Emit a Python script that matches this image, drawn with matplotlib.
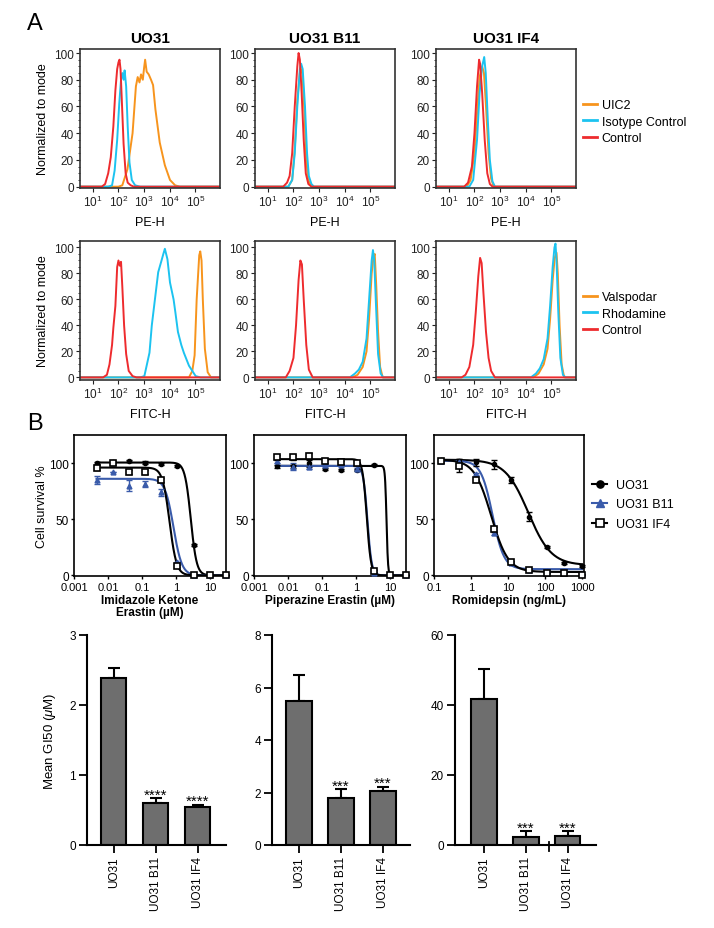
import numpy as np
import matplotlib
matplotlib.use('Agg')
import matplotlib.pyplot as plt
from matplotlib.lines import Line2D
from matplotlib.ticker import AutoMinorLocator, LogLocator, NullLocator, NullFormatter

plt.rcParams['font.family'] = ['Liberation Sans', 'DejaVu Sans']
plt.rcParams['mathtext.fontset'] = 'custom'
plt.rcParams['mathtext.rm'] = 'Liberation Sans'
plt.rcParams['mathtext.it'] = 'Liberation Sans:italic'
plt.rcParams['mathtext.bf'] = 'Liberation Sans:bold'

ORANGE = '#F7941D'
CYAN = '#1CC3F0'
RED = '#EE2B2E'
BLUE = '#3A5BAA'

# ---------------- A: flow histograms (log10 intensity, % of mode) ----------------
# PE-H (UIC2 staining)
pe_uo31_uic2_x = [2.0, 2.15, 2.35, 2.55, 2.68, 2.75, 2.82, 2.88, 2.95, 3.0, 3.04, 3.1, 3.18, 3.27, 3.35, 3.44, 3.61, 3.81, 4.01, 4.21, 4.4]
pe_uo31_uic2_y = [0, 1, 13, 40, 75, 82, 78, 84, 80, 89, 95, 86, 84, 80, 76, 58, 33, 16, 5, 1, 0]
pe_uo31_iso_x = [1.6, 1.75, 1.85, 1.95, 2.03, 2.1, 2.15, 2.2, 2.24, 2.3, 2.36, 2.43, 2.52, 2.65, 2.85]
pe_uo31_iso_y = [0, 1, 12, 35, 62, 80, 85, 80, 87, 75, 45, 18, 5, 1, 0]
pe_uo31_ctrl_x = [1.35, 1.48, 1.6, 1.7, 1.8, 1.88, 1.95, 2.0, 2.04, 2.08, 2.13, 2.2, 2.28, 2.36, 2.48, 2.6]
pe_uo31_ctrl_y = [0, 2, 10, 22, 45, 72, 88, 93, 95, 88, 65, 32, 10, 3, 1, 0]

pe_b11_uic2_x = [1.8, 1.95, 2.05, 2.15, 2.25, 2.3, 2.35, 2.43, 2.5, 2.58, 2.7]
pe_b11_uic2_y = [0, 5, 28, 65, 85, 88, 84, 55, 20, 5, 0]
pe_b11_iso_x = [1.8, 1.95, 2.05, 2.15, 2.25, 2.3, 2.36, 2.45, 2.53, 2.6, 2.7, 2.8]
pe_b11_iso_y = [0, 5, 25, 60, 88, 92, 88, 60, 25, 8, 2, 0]
pe_b11_ctrl_x = [1.6, 1.75, 1.85, 1.95, 2.05, 2.15, 2.2, 2.25, 2.32, 2.4, 2.48, 2.58, 2.7]
pe_b11_ctrl_y = [0, 3, 8, 25, 60, 90, 100, 95, 70, 35, 10, 2, 0]

pe_if4_uic2_x = [1.7, 1.85, 2.0, 2.1, 2.2, 2.3, 2.37, 2.45, 2.55, 2.65, 2.75]
pe_if4_uic2_y = [0, 5, 25, 55, 82, 90, 85, 60, 25, 6, 0]
pe_if4_iso_x = [1.8, 1.95, 2.1, 2.2, 2.3, 2.38, 2.44, 2.52, 2.6, 2.7, 2.8]
pe_if4_iso_y = [0, 5, 35, 70, 90, 97, 85, 50, 20, 4, 0]
pe_if4_ctrl_x = [1.6, 1.75, 1.9, 2.0, 2.1, 2.18, 2.22, 2.3, 2.4, 2.5, 2.6, 2.7]
pe_if4_ctrl_y = [0, 3, 15, 40, 75, 95, 92, 70, 35, 10, 2, 0]

# FITC-H (rhodamine efflux)
fitc_uo31_vals_x = [4.75, 4.88, 4.97, 5.05, 5.15, 5.19, 5.24, 5.29, 5.37, 5.48, 5.61]
fitc_uo31_vals_y = [0, 5, 17, 60, 94, 97, 90, 60, 22, 4, 0]
fitc_uo31_rho_x = [2.85, 3.01, 3.21, 3.3, 3.44, 3.55, 3.68, 3.75, 3.81, 3.91, 4.01, 4.15, 4.22, 4.32, 4.45, 4.55, 4.75, 5.01, 5.2]
fitc_uo31_rho_y = [0, 1, 19, 40, 63, 81, 90, 95, 99, 91, 73, 60, 50, 35, 25, 19, 9, 1, 0]
fitc_uo31_ctrl_x = [1.4, 1.55, 1.65, 1.75, 1.8, 1.88, 1.95, 2.0, 2.05, 2.1, 2.15, 2.22, 2.3, 2.4, 2.55, 2.7]
fitc_uo31_ctrl_y = [0, 2, 10, 25, 38, 55, 85, 90, 86, 89, 70, 40, 18, 5, 1, 0]

fitc_b11_vals_x = [4.3, 4.5, 4.7, 4.85, 4.95, 5.05, 5.12, 5.17, 5.23, 5.3, 5.38, 5.48]
fitc_b11_vals_y = [0, 2, 8, 20, 45, 80, 93, 95, 70, 35, 8, 0]
fitc_b11_rho_x = [4.2, 4.4, 4.55, 4.7, 4.85, 4.95, 5.05, 5.1, 5.15, 5.22, 5.3, 5.4, 5.5]
fitc_b11_rho_y = [0, 3, 6, 12, 30, 60, 90, 98, 90, 55, 18, 3, 0]
fitc_b11_ctrl_x = [1.7, 1.85, 2.0, 2.1, 2.2, 2.27, 2.33, 2.4, 2.5, 2.6, 2.75]
fitc_b11_ctrl_y = [0, 5, 15, 40, 75, 90, 87, 60, 25, 6, 0]

fitc_if4_vals_x = [4.3, 4.5, 4.7, 4.85, 4.95, 5.05, 5.13, 5.2, 5.25, 5.32, 5.4, 5.5]
fitc_if4_vals_y = [0, 3, 10, 22, 45, 75, 92, 96, 80, 40, 10, 0]
fitc_if4_rho_x = [4.2, 4.4, 4.55, 4.7, 4.85, 4.95, 5.05, 5.12, 5.16, 5.2, 5.27, 5.35, 5.45, 5.55]
fitc_if4_rho_y = [0, 3, 7, 14, 30, 55, 85, 100, 103, 90, 50, 15, 2, 0]
fitc_if4_ctrl_x = [1.5, 1.65, 1.8, 1.95, 2.05, 2.15, 2.22, 2.28, 2.35, 2.45, 2.55, 2.65, 2.8]
fitc_if4_ctrl_y = [0, 2, 8, 25, 50, 78, 92, 88, 65, 35, 15, 5, 0]

cell_lines = ['UO31', 'UO31 B11', 'UO31 IF4']
pe_legend = ['UIC2', 'Isotype Control', 'Control']
fitc_legend = ['Valspodar', 'Rhodamine', 'Control']

# ---------------- B: dose response ----------------
conc_erastin = [0.0046, 0.0137, 0.041, 0.123, 0.37, 1.11, 3.33, 10, 30]
conc_romi = [0.15, 0.46, 1.37, 4.1, 12.3, 37, 111, 333, 1000]

ike_uo31 = [100, 101, 102, 100.5, 99, 97.5, 27, 0, 0]
ike_uo31_err = [1, 1, 1, 1, 1, 1, 1, 0, 0]
ike_b11 = [85, 92, 80, 81.5, 74, 12, 0.5, 0, 0]
ike_b11_err = [3.5, 0, 5, 2.5, 3, 0, 0, 0, 0]
ike_if4 = [96, 100, 92, 92, 85, 8, 0, 0, 0]
ike_if4_err = [2, 2, 2, 2, 2, 1, 0, 0, 0]

pe_uo31 = [97, 97, 99.7, 94.6, 93.8, 94, 98, 0, 0]
pe_uo31_err = [1, 1, 3, 1, 1, 1, 1, 0, 0]
pe_b11 = [102, 96.7, 96.7, 98.5, 98.5, 95, 2, 0, 0]
pe_b11_err = [2, 3, 2, 1, 1, 1, 0, 0, 0]
pe_if4 = [105, 105, 106.5, 101.5, 100.6, 99.7, 4, 0, 0]
pe_if4_err = [2, 2.5, 2.5, 1, 1, 1.5, 1, 0, 0]

romi_uo31 = [103, 101.5, 100.6, 99, 84.8, 52, 25, 11.3, 8.3]
romi_uo31_err = [1, 2, 3, 4, 3, 4, 1, 1, 1]
romi_b11 = [102, 101, 90, 38, 11, 5, 4, 4, 1]
romi_b11_err = [1, 2, 1, 2, 1, 0.5, 0.5, 0.5, 0.5]
romi_if4 = [101.5, 97.6, 84.8, 41, 12, 4.5, 2.4, 2.4, 0.6]
romi_if4_err = [1, 6, 1, 2, 1, 0.5, 0.5, 0.5, 0.5]

# fitted 4PL parameters: top, bottom, IC50, hill
ike_fits = [[100.5, 0, 2.75, 5], [86, 0, 0.85, 3.5], [96, 0, 0.65, 4.2]]
pe_fits = [[97.5, 0, 8.0, 20], [97.5, 0, 2.2, 7], [103.5, 0, 2.1, 7]]
romi_fits = [[103, 9, 35, 1.4], [102, 5.5, 3.8, 2.8], [103, 3, 3.5, 1.9]]

# ---------------- B: GI50 bars ----------------
gi50_ike = [2.38, 0.60, 0.55]
gi50_ike_err = [0.15, 0.07, 0.025]
gi50_pe = [5.5, 1.78, 2.04]
gi50_pe_err = [0.98, 0.35, 0.18]
gi50_romi = [41.8, 2.4, 2.5]
gi50_romi_err = [8.6, 1.6, 1.4]
stars_ike = ['', '****', '****']
stars_pe = ['', '***', '***']
stars_romi = ['', '***', '***']

W, H = 714, 929
fig = plt.figure(figsize=(W / 100, H / 100), dpi=100)


def box(l, t, r, b):
    return fig.add_axes([l / W, 1 - b / H, (r - l) / W, (b - t) / H])


# ---------- histograms ----------
XLO, XHI = 0.5, 5.96
hist_cols = [(80, 220), (255, 395), (436, 576)]
hist_rows = [(50, 189, (-1, 103)), (242, 381, (-2, 105))]
hist_data = [
    [[(pe_uo31_uic2_x, pe_uo31_uic2_y, ORANGE), (pe_uo31_iso_x, pe_uo31_iso_y, CYAN), (pe_uo31_ctrl_x, pe_uo31_ctrl_y, RED)],
     [(pe_b11_uic2_x, pe_b11_uic2_y, ORANGE), (pe_b11_iso_x, pe_b11_iso_y, CYAN), (pe_b11_ctrl_x, pe_b11_ctrl_y, RED)],
     [(pe_if4_uic2_x, pe_if4_uic2_y, ORANGE), (pe_if4_iso_x, pe_if4_iso_y, CYAN), (pe_if4_ctrl_x, pe_if4_ctrl_y, RED)]],
    [[(fitc_uo31_vals_x, fitc_uo31_vals_y, ORANGE), (fitc_uo31_rho_x, fitc_uo31_rho_y, CYAN), (fitc_uo31_ctrl_x, fitc_uo31_ctrl_y, RED)],
     [(fitc_b11_vals_x, fitc_b11_vals_y, ORANGE), (fitc_b11_rho_x, fitc_b11_rho_y, CYAN), (fitc_b11_ctrl_x, fitc_b11_ctrl_y, RED)],
     [(fitc_if4_vals_x, fitc_if4_vals_y, ORANGE), (fitc_if4_rho_x, fitc_if4_rho_y, CYAN), (fitc_if4_ctrl_x, fitc_if4_ctrl_y, RED)]],
]
hist_xlabels = ['PE-H', 'FITC-H']
hist_legends = [pe_legend, fitc_legend]
legend_tops = [100, 292]

for r, (top, bot, ylim) in enumerate(hist_rows):
    for c, (l, rr) in enumerate(hist_cols):
        ax = box(l, top, rr, bot)
        for lx, ly, col in hist_data[r][c]:
            xs = np.concatenate([[XLO], lx, [XHI]])
            ys = np.concatenate([[0], ly, [0]])
            ax.plot(10 ** xs, ys, color=col, lw=1.4)
        ax.set_xscale('log')
        ax.set_xlim(10 ** XLO, 10 ** XHI)
        ax.set_ylim(*ylim)
        ax.set_xticks([10 ** k for k in range(1, 6)])
        ax.set_xticklabels([r'$10^{%d}$' % k for k in range(1, 6)])
        ax.xaxis.set_minor_locator(LogLocator(base=10, subs=np.arange(2, 10)))
        ax.xaxis.set_minor_formatter(NullFormatter())
        ax.set_yticks([0, 20, 40, 60, 80, 100])
        ax.yaxis.set_minor_locator(AutoMinorLocator(4))
        ax.tick_params(which='major', direction='out', length=3, width=0.8, pad=1.5, labelsize=8.5, colors='#222222')
        ax.tick_params(which='minor', direction='out', length=1.5, width=0.6, colors='#222222')
        for s in ax.spines.values():
            s.set_linewidth(1.2)
            s.set_color('#333333')
        ax.set_xlabel(hist_xlabels[r], fontsize=9)
        ax.xaxis.set_label_coords(0.5, -0.2)
        if c == 0:
            ax.set_ylabel('Normalized to mode', fontsize=9)
            ax.yaxis.set_label_coords(-0.22, 0.5)
        if r == 0:
            ax.set_title(cell_lines[c], fontweight='bold', fontsize=11, pad=5)
        if c == 2:
            handles = [Line2D([], [], color=col, lw=2) for _, _, col in hist_data[r][c]]
            ax.legend(handles, hist_legends[r], loc='upper left', frameon=False,
                      bbox_to_anchor=(583 / W, 1 - legend_tops[r] / H), bbox_transform=fig.transFigure,
                      borderaxespad=0, borderpad=0, fontsize=9, handlelength=1.1,
                      handletextpad=0.4, labelspacing=0.38)

fig.text(35 / W, 1 - 24 / H, 'A', fontsize=17, ha='center', va='center')
fig.text(35 / W, 1 - 424 / H, 'B', fontsize=17, ha='center', va='center')

# ---------- dose response ----------
dose_cols = [(74, 226), (254, 406), (434, 584)]
dose_top, dose_bot = 436, 577
dose_sets = [
    (conc_erastin, [ike_uo31, ike_b11, ike_if4], [ike_uo31_err, ike_b11_err, ike_if4_err], ike_fits,
     (0.001, 30), [0.001, 0.01, 0.1, 1, 10], ['0.001', '0.01', '0.1', '1', '10'], 'Imidazole Ketone\nErastin (\u00b5M)'),
    (conc_erastin, [pe_uo31, pe_b11, pe_if4], [pe_uo31_err, pe_b11_err, pe_if4_err], pe_fits,
     (0.001, 30), [0.001, 0.01, 0.1, 1, 10], ['0.001', '0.01', '0.1', '1', '10'], 'Piperazine Erastin (\u00b5M)'),
    (conc_romi, [romi_uo31, romi_b11, romi_if4], [romi_uo31_err, romi_b11_err, romi_if4_err], romi_fits,
     (0.1, 1120), [0.1, 1, 10, 100, 1000], ['0.1', '1', '10', '100', '1000'], 'Romidepsin (ng/mL)'),
]
line_cols = ['black', BLUE, 'black']
mk = [dict(marker='o', ms=3, mfc='black', mec='black'),
      dict(marker='^', ms=3.5, mfc=BLUE, mec=BLUE),
      dict(marker='s', ms=4, mfc='white', mec='black', mew=1.2)]

for i, (conc, ys, errs, fits, xlim, xt, xtl, xlab) in enumerate(dose_sets):
    l, rr = dose_cols[i]
    ax = box(l, dose_top, rr, dose_bot)
    xx = np.logspace(np.log10(conc[0]), np.log10(conc[-1]), 400)
    for j in range(3):
        top, bottom, ic50, hill = fits[j]
        ax.plot(xx, bottom + (top - bottom) / (1 + (xx / ic50) ** hill), color=line_cols[j], lw=1.5, zorder=2)
        ax.errorbar(conc, ys[j], yerr=errs[j], fmt='none', ecolor=line_cols[j], elinewidth=1, capsize=2, capthick=1, zorder=3, clip_on=False)
        ax.plot(conc, ys[j], ls='none', zorder=4, clip_on=False, **mk[j])
    ax.set_xscale('log')
    ax.set_xlim(*xlim)
    ax.set_ylim(-0.6, 125)
    ax.set_xticks(xt)
    ax.set_xticklabels(xtl)
    ax.xaxis.set_minor_locator(NullLocator())
    ax.set_yticks([0, 50, 100])
    ax.tick_params(axis='y', direction='out', length=2.5, width=1, pad=1, labelsize=8.5)
    ax.tick_params(axis='x', direction='out', length=2.5, width=1, pad=1.5, labelsize=8)
    for s in ax.spines.values():
        s.set_linewidth(1.2)
    ax.set_xlabel(xlab, fontsize=8.5, fontweight='bold', linespacing=1.0)
    ax.xaxis.set_label_coords(0.5, -0.125)
    if i == 0:
        ax.set_ylabel('Cell survival %', fontsize=9)
        ax.yaxis.set_label_coords(-0.17, 0.5)
    if i == 2:
        handles = [Line2D([], [], color=line_cols[j], lw=1.5, **{**mk[j], 'ms': mk[j]['ms'] + 2.2}) for j in range(3)]
        ax.legend(handles, cell_lines, loc='upper left', frameon=False,
                  bbox_to_anchor=(592 / W, 1 - 480 / H), bbox_transform=fig.transFigure,
                  borderaxespad=0, borderpad=0, fontsize=9, handlelength=1.2,
                  handletextpad=0.7, labelspacing=0.6)

# ---------- GI50 bars ----------
bar_cols = [(87, 226, (-0.64, 2.67)), (272, 410, (-0.64, 2.64)), (455, 596, (-0.69, 2.67))]
bar_top, bar_bot = 636, 846
bar_sets = [(gi50_ike, gi50_ike_err, stars_ike, 3, [0, 1, 2, 3]),
            (gi50_pe, gi50_pe_err, stars_pe, 8, [0, 2, 4, 6, 8]),
            (gi50_romi, gi50_romi_err, stars_romi, 60, [0, 20, 40, 60])]
pos = np.arange(3)

for i, (vals, errs, stars, ymax, yt) in enumerate(bar_sets):
    l, rr, xlim = bar_cols[i]
    ax = box(l, bar_top, rr, bar_bot)
    ax.errorbar(pos, vals, yerr=[np.zeros(3), errs], fmt='none', ecolor='black', elinewidth=1.5,
                capsize=4, capthick=1.5, zorder=1)
    ax.bar(pos, vals, width=0.6, color='#6e6e6e', edgecolor='black', linewidth=1.5, zorder=2)
    for p, v, e, s in zip(pos, vals, errs, stars):
        if s:
            ax.annotate(s, (p, v + e), xytext=(0, -2.5), textcoords='offset points',
                        ha='center', va='bottom', fontsize=11)
    ax.set_xlim(*xlim)
    ax.set_ylim(0, ymax)
    ax.set_yticks(yt)
    ax.set_xticks(pos)
    ax.set_xticklabels(cell_lines, rotation=90, fontsize=8.5)
    ax.spines['top'].set_visible(False)
    ax.spines['right'].set_visible(False)
    ax.spines['left'].set_linewidth(1.5)
    ax.spines['bottom'].set_linewidth(1.5)
    ax.tick_params(direction='out', length=6, width=1.3, pad=2, labelsize=8.5)
    if i == 0:
        ax.set_ylabel(r'Mean GI50 ($\mu$M)', fontsize=9.5)
        ax.yaxis.set_label_coords(-0.21, 0.5)
    if i == 2:
        # small extra tick on the romidepsin x axis
        ax.plot([1.55, 1.55], [-0.028, 0.014], color='black', lw=1.3,
                transform=ax.get_xaxis_transform(), clip_on=False)

fig.savefig('out.png', dpi=100)
